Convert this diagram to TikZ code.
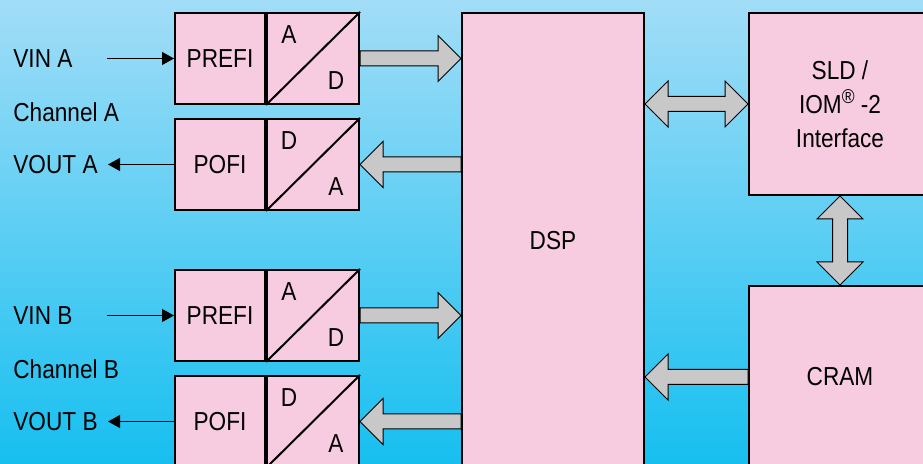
\documentclass[tikz,border=0pt]{standalone}
\usepackage{fontspec}
\setmainfont[FakeStretch=0.87]{Liberation Sans}
\usepackage{tikz}
\usetikzlibrary{arrows.meta}
\usetikzlibrary{calc}
\usetikzlibrary{positioning}

\definecolor{boxpink}{RGB}{248,204,224}
\definecolor{arrowgray}{RGB}{200,200,200}
\definecolor{skytop}{RGB}{162,221,247}
\definecolor{skybottom}{RGB}{22,191,240}

%% hollow block arrow from #1 to #2
\newcommand{\fatarrow}[2]{%
  \coordinate (hb) at ($(#2)!11.5pt!(#1)$);
  \draw[fatdecorate] ($(#1)!3.75pt!90:(#2)$) -- ($(hb)!3.75pt!90:(#2)$)
    -- ($(hb)!11.5pt!90:(#2)$) -- (#2) -- ($(hb)!11.5pt!-90:(#2)$)
    -- ($(hb)!3.75pt!-90:(#2)$) -- ($(#1)!3.75pt!-90:(#2)$) -- cycle;}
%% hollow block arrow with heads at both ends
\newcommand{\fatdarrow}[2]{%
  \coordinate (hba) at ($(#1)!11.5pt!(#2)$);
  \coordinate (hbb) at ($(#2)!11.5pt!(#1)$);
  \draw[fatdecorate] (#1) -- ($(hba)!11.5pt!90:(#2)$) -- ($(hba)!3.75pt!90:(#2)$)
    -- ($(hbb)!3.75pt!90:(#2)$) -- ($(hbb)!11.5pt!90:(#2)$) -- (#2)
    -- ($(hbb)!11.5pt!-90:(#2)$) -- ($(hbb)!3.75pt!-90:(#2)$)
    -- ($(hba)!3.75pt!-90:(#2)$) -- ($(hba)!11.5pt!-90:(#2)$) -- cycle;}
%% registered sign as printed in the picture
\newcommand{\regmark}{\raisebox{5pt}{\fontsize{10}{10}\selectfont ®}}

\begin{document}
\begin{tikzpicture}
[x=0.5pt,y=-0.5pt,
  font=\fontsize{13}{17}\selectfont,
  blockdecorate/.style={draw,line width=1pt,fill=boxpink,inner sep=0pt},
  filterdecorate/.style={blockdecorate,minimum width=45pt,minimum height=45.5pt},
  convdecorate/.style={blockdecorate,minimum width=46pt,minimum height=45.5pt},
  bigdecorate/.style={blockdecorate,minimum width=91pt,minimum height=91pt,align=center},
  fatdecorate/.style={draw,line width=0.5pt,fill=arrowgray},
  sigdecorate/.style={line width=0.6pt,-{Triangle[length=6pt,width=6.5pt]}},
  labeldecorate/.style={anchor=west,inner sep=0pt}]
%% background
\clip (0,0) rectangle (923,464);
\shade[top color=skytop,bottom color=skybottom] (0,0) rectangle (923,464);
%% big blocks
\node (dsp) at (553,240.5) [bigdecorate,minimum height=227.5pt] {DSP};
\node (sld) at (840,104) [bigdecorate] {SLD /\\IOM\regmark{} -2\\Interface};
\node (cram) at (840,377) [bigdecorate] {CRAM};
%% channels
\foreach \ch/\ypre/\ypof in {A/58.5/164.5, B/315.5/421.5}
{
  \node (pre\ch) at (220,\ypre) [filterdecorate] {PREFI};
  \node (ad\ch) [convdecorate,right=0pt of pre\ch] {};
  \draw[line width=1pt] (ad\ch.south west) -- (ad\ch.north east);
  \node at ($(ad\ch.north west)+(23,23)$) {A};
  \node at ($(ad\ch.south east)+(-24,-24)$) {D};
  \node (pof\ch) at (220,\ypof) [filterdecorate] {POFI};
  \node (da\ch) [convdecorate,right=0pt of pof\ch] {};
  \draw[line width=1pt] (da\ch.south west) -- (da\ch.north east);
  \node at ($(da\ch.north west)+(23,23)$) {D};
  \node at ($(da\ch.south east)+(-24,-24)$) {A};
  %% labels and signal lines
  \node (vin\ch) at (13,\ypre) [labeldecorate] {VIN \ch};
  \node (chan\ch) at (13,\ypre+54) [labeldecorate] {Channel \ch};
  \node (vout\ch) at (13,\ypof) [labeldecorate] {VOUT \ch};
  \coordinate (in\ch) at (107,\ypre);
  \coordinate (out\ch) at (108,\ypof);
  \draw[sigdecorate] (in\ch) -- (pre\ch.west);
  \draw[sigdecorate] (pof\ch.west) -- (out\ch);
  %% buses to and from the DSP
  \coordinate (dspin\ch) at (dsp.west |- ad\ch.east);
  \coordinate (dspout\ch) at (dsp.west |- da\ch.east);
  \fatarrow{ad\ch.east}{dspin\ch}
  \fatarrow{dspout\ch}{da\ch.east}
}
%% buses on the right
\coordinate (dspsld) at (dsp.east |- sld.west);
\coordinate (dspcram) at (dsp.east |- cram.west);
\fatdarrow{dspsld}{sld.west}
\fatdarrow{sld.south}{cram.north}
\fatarrow{cram.west}{dspcram}
\end{tikzpicture}
\end{document}
